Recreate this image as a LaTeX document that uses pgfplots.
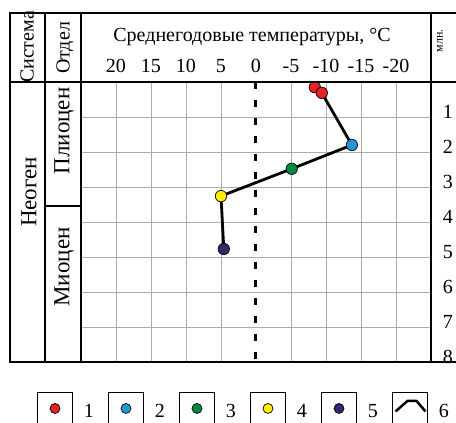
\documentclass[border=0pt]{standalone}
\usepackage{fontspec}
\setmainfont{Liberation Serif}
\usepackage{pgfplots}
\pgfplotsset{compat=1.18}
\definecolor{pRed}{RGB}{230,35,40}
\definecolor{pBlue}{RGB}{30,155,215}
\definecolor{pGreen}{RGB}{0,135,65}
\definecolor{pYellow}{RGB}{255,235,0}
\definecolor{pPurple}{RGB}{55,40,110}
\pgfplotsset{boxmark/.style={legend image code/.code={
  \draw[black, line width=1pt] (0pt,-12pt) -- (0pt,25pt) -- (35pt,25pt) -- (35pt,-12pt);
  \draw[black, line width=0.7pt, fill=#1] (17.5pt,9pt) circle (5pt);
}}}
\newcommand{\bigf}{\fontsize{20}{24}\selectfont}
\newcommand{\bodyf}{\fontsize{23}{27}\selectfont}
\begin{document}
\begin{tikzpicture}[x=1pt,y=1pt]
\useasboundingbox (0,0) rectangle (456,423);
\begin{axis}[at={(81pt,61pt)}, anchor=south west, scale only axis,
  width=350pt, height=280pt,
  xmin=-25, xmax=25, x dir=reverse, ymin=0, ymax=8, y dir=reverse,
  xtick={-20,-15,-10,-5,5,10,15,20},
  xticklabels={-20,-15,-10,-5,5,10,15,20},
  extra x ticks={0}, extra x tick labels={0}, extra x tick style={grid=none},
  ytick={1,2,3,4,5,6,7,8}, yticklabels={1,2,3,4,5,6,7,8},
  grid=major, grid style={gray!65, line width=0.6pt},
  major tick length=0pt,
  xticklabel pos=upper, yticklabel pos=upper,
  xticklabel style={anchor=base, yshift=10pt},
  yticklabel style={anchor=base, xshift=17pt, yshift=-1pt},
  tick label style={font=\bigf},
  axis line style={line width=1.4pt},
  clip=false,
  legend columns=6,
  legend style={draw=none, fill=none, inner sep=0pt, outer sep=0pt,
    at={(-0.1257,-0.107)}, anchor=north west, font=\bigf,
    nodes={inner sep=0pt}, cells={anchor=base west},
    /tikz/every odd column/.append style={column sep=11pt},
    /tikz/every even column/.append style={column sep=14pt}},
]
\addplot[black, line width=3pt, dash pattern=on 7pt off 11pt, forget plot] coordinates {(0,0) (0,8)};
\addplot[black, line width=2.8pt, line join=round, forget plot] coordinates {(-8.4,0.15) (-9.4,0.31) (-13.7,1.8) (-5.1,2.48) (5.0,3.26) (4.6,4.77)};
\addplot[only marks, mark=*, mark size=5.7pt, mark options={fill=pRed, draw=black, line width=0.7pt}, forget plot] coordinates {(-8.4,0.15) (-9.4,0.31)};
\addplot[only marks, mark=*, mark size=5.7pt, mark options={fill=pBlue, draw=black, line width=0.7pt}, forget plot] coordinates {(-13.7,1.8)};
\addplot[only marks, mark=*, mark size=5.7pt, mark options={fill=pGreen, draw=black, line width=0.7pt}, forget plot] coordinates {(-5.1,2.48)};
\addplot[only marks, mark=*, mark size=5.7pt, mark options={fill=pYellow, draw=black, line width=0.7pt}, forget plot] coordinates {(5.0,3.26)};
\addplot[only marks, mark=*, mark size=5.7pt, mark options={fill=pPurple, draw=black, line width=0.7pt}, forget plot] coordinates {(4.6,4.77)};
\addlegendimage{boxmark=pRed}\addlegendentry{1}
\addlegendimage{boxmark=pBlue}\addlegendentry{2}
\addlegendimage{boxmark=pGreen}\addlegendentry{3}
\addlegendimage{boxmark=pYellow}\addlegendentry{4}
\addlegendimage{boxmark=pPurple}\addlegendentry{5}
\addlegendimage{legend image code/.code={
  \draw[black, line width=1pt] (0pt,-12pt) -- (0pt,25pt) -- (35pt,25pt) -- (35pt,-12pt);
  \draw[black, line width=2.5pt, line join=round] (3pt,6pt) -- (15pt,16.5pt) -- (24pt,16.5pt) -- (33pt,6pt);
}}\addlegendentry{6}
\end{axis}
% table frame
\draw[line width=1.6pt] (10,61) rectangle (470,410);
\draw[line width=1.4pt] (45,61) -- (45,410);
\draw[line width=1.4pt] (81,61) -- (81,410);
\draw[line width=1.4pt] (431,61) -- (431,410);
\draw[line width=1.4pt] (10,341) -- (470,341);
\draw[line width=1.4pt] (45,217) -- (81,217);
% texts
\node[font=\bigf] at (252,386) {Среднегодовые температуры, °C};
\node[font=\bigf, rotate=90] at (27,376) {Система};
\node[font=\bigf, rotate=90] at (65,375) {Отдел};
\node[font=\bodyf, rotate=90] at (29,231) {Неоген};
\node[font=\bodyf, rotate=90] at (64,292) {Плиоцен};
\node[font=\bodyf, rotate=90] at (64,156) {Миоцен};
\node[font=\fontsize{12}{14}\selectfont, rotate=90] at (440,382) {млн.};
\end{tikzpicture}
\end{document}
